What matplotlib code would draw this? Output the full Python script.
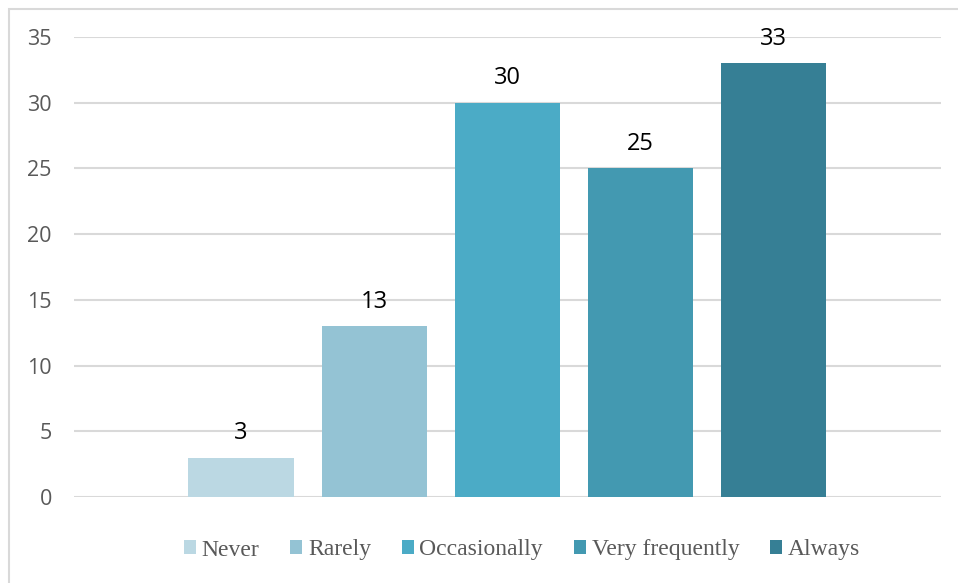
import matplotlib.pyplot as plt
from matplotlib.patches import Rectangle

# response frequency counts
categories = ["Never", "Rarely", "Occasionally", "Very frequently", "Always"]
counts = [3, 13, 30, 25, 33]
bar_colors = ["#BBD8E3", "#94C3D4", "#4BABC6", "#4399B1", "#367F95"]

fig = plt.figure(figsize=(9.58, 5.83), dpi=100)
ax = fig.add_axes([74 / 958, 1 - 497 / 583, 867 / 958, 460 / 583])

xs = list(range(len(categories)))
bars = ax.bar(xs, counts, width=0.79, color=bar_colors, label=categories, zorder=2)

for b, v in zip(bars, counts):
    ax.annotate(str(v), (b.get_x() + b.get_width() / 2, v), xytext=(0, 9),
                textcoords="offset points", ha="center", va="bottom",
                fontsize=17, color="black", family="Open Sans")

ax.set_xlim(-1.255, 5.26)
ax.set_ylim(0, 35)
ax.set_yticks(range(0, 36, 5))
ax.set_xticks([])
ax.yaxis.grid(True, color="#D9D9D9", linewidth=1.5, zorder=0)
ax.tick_params(axis="y", length=0, pad=16, labelsize=15.5, labelcolor="#595959")
for lbl in ax.get_yticklabels():
    lbl.set_family("Open Sans")
for s in ax.spines.values():
    s.set_visible(False)

leg = fig.legend(handles=list(bars), labels=categories, loc="center", ncol=5,
                 bbox_to_anchor=(522 / 958, 1 - 550 / 583), frameon=False,
                 prop={"family": "Liberation Serif", "size": 17},
                 handlelength=0.5, handleheight=0.5, handletextpad=0.25,
                 columnspacing=1.3)
for t in leg.get_texts():
    t.set_color("#595959")

# chart frame
fig.patches.append(Rectangle((9 / 958, -0.1), 1.2, 1 - 8.5 / 583 + 0.1,
                             transform=fig.transFigure, fill=False,
                             edgecolor="#D9D9D9", linewidth=1.5))

fig.savefig("out.png", dpi=100)
